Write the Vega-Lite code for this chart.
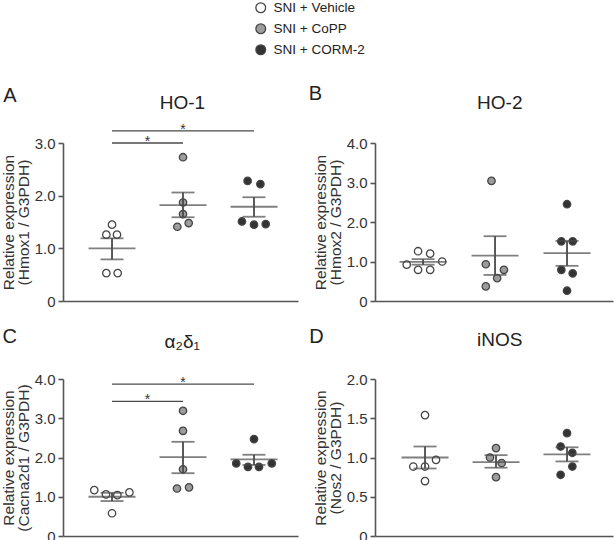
{
  "$schema": "https://vega.github.io/schema/vega-lite/v6.json",
  "autosize": {"type": "none"},
  "padding": {"left": 63, "top": 143, "right": 552, "bottom": 397},
  "background": "white",
  "config": {
    "font": "Liberation Sans",
    "view": {"stroke": null},
    "axis": {
      "domainColor": "#555555", "domainWidth": 1.6,
      "tickColor": "#555555", "tickWidth": 1.6, "tickSize": 5,
      "labelFontSize": 15, "labelColor": "#333333", "labelPadding": 3, "labelFont": "Liberation Sans", "labelOverlap": false,
      "grid": false,
      "titleFontSize": 15.5, "titleFontWeight": "normal", "titleColor": "#333333", "titleFont": "Liberation Sans",
      "titlePadding": 3, "titleLineHeight": 14.5
    }
  },
  "datasets": {
    "pts": [
      {"panel": "A", "group": "SNI + Vehicle", "jit": 0, "value": 1.45},
      {"panel": "A", "group": "SNI + Vehicle", "jit": -0.08, "value": 1.26},
      {"panel": "A", "group": "SNI + Vehicle", "jit": 0.07, "value": 1.26},
      {"panel": "A", "group": "SNI + Vehicle", "jit": -0.08, "value": 0.53},
      {"panel": "A", "group": "SNI + Vehicle", "jit": 0.08, "value": 0.53},
      {"panel": "A", "group": "SNI + CoPP", "jit": 0, "value": 2.73},
      {"panel": "A", "group": "SNI + CoPP", "jit": 0, "value": 1.87},
      {"panel": "A", "group": "SNI + CoPP", "jit": 0, "value": 1.65},
      {"panel": "A", "group": "SNI + CoPP", "jit": -0.08, "value": 1.41},
      {"panel": "A", "group": "SNI + CoPP", "jit": 0.08, "value": 1.48},
      {"panel": "A", "group": "SNI + CORM-2", "jit": -0.09, "value": 2.28},
      {"panel": "A", "group": "SNI + CORM-2", "jit": 0.09, "value": 2.22},
      {"panel": "A", "group": "SNI + CORM-2", "jit": -0.17, "value": 1.51},
      {"panel": "A", "group": "SNI + CORM-2", "jit": 0, "value": 1.45},
      {"panel": "A", "group": "SNI + CORM-2", "jit": 0.165, "value": 1.46},

      {"panel": "B", "group": "SNI + Vehicle", "jit": -0.07, "value": 1.26},
      {"panel": "B", "group": "SNI + Vehicle", "jit": 0.1, "value": 1.2},
      {"panel": "B", "group": "SNI + Vehicle", "jit": -0.23, "value": 0.92},
      {"panel": "B", "group": "SNI + Vehicle", "jit": 0.27, "value": 1.0},
      {"panel": "B", "group": "SNI + Vehicle", "jit": -0.07, "value": 0.79},
      {"panel": "B", "group": "SNI + Vehicle", "jit": 0.1, "value": 0.79},
      {"panel": "B", "group": "SNI + CoPP", "jit": -0.05, "value": 3.04},
      {"panel": "B", "group": "SNI + CoPP", "jit": -0.13, "value": 0.93},
      {"panel": "B", "group": "SNI + CoPP", "jit": 0.125, "value": 0.79},
      {"panel": "B", "group": "SNI + CoPP", "jit": 0.03, "value": 0.58},
      {"panel": "B", "group": "SNI + CoPP", "jit": -0.13, "value": 0.37},
      {"panel": "B", "group": "SNI + CORM-2", "jit": 0, "value": 2.45},
      {"panel": "B", "group": "SNI + CORM-2", "jit": -0.08, "value": 1.51},
      {"panel": "B", "group": "SNI + CORM-2", "jit": 0.08, "value": 1.51},
      {"panel": "B", "group": "SNI + CORM-2", "jit": -0.08, "value": 0.79},
      {"panel": "B", "group": "SNI + CORM-2", "jit": 0.08, "value": 0.7},
      {"panel": "B", "group": "SNI + CORM-2", "jit": 0, "value": 0.26},

      {"panel": "C", "group": "SNI + Vehicle", "jit": -0.25, "value": 1.17},
      {"panel": "C", "group": "SNI + Vehicle", "jit": -0.085, "value": 1.06},
      {"panel": "C", "group": "SNI + Vehicle", "jit": 0.075, "value": 1.04},
      {"panel": "C", "group": "SNI + Vehicle", "jit": 0.245, "value": 1.11},
      {"panel": "C", "group": "SNI + Vehicle", "jit": 0, "value": 0.58},
      {"panel": "C", "group": "SNI + CoPP", "jit": 0, "value": 3.19},
      {"panel": "C", "group": "SNI + CoPP", "jit": 0, "value": 2.68},
      {"panel": "C", "group": "SNI + CoPP", "jit": 0, "value": 1.7},
      {"panel": "C", "group": "SNI + CoPP", "jit": -0.085, "value": 1.21},
      {"panel": "C", "group": "SNI + CoPP", "jit": 0.085, "value": 1.24},
      {"panel": "C", "group": "SNI + CORM-2", "jit": 0, "value": 2.47},
      {"panel": "C", "group": "SNI + CORM-2", "jit": -0.25, "value": 1.85},
      {"panel": "C", "group": "SNI + CORM-2", "jit": -0.085, "value": 1.76},
      {"panel": "C", "group": "SNI + CORM-2", "jit": 0.07, "value": 1.76},
      {"panel": "C", "group": "SNI + CORM-2", "jit": 0.25, "value": 1.85},

      {"panel": "D", "group": "SNI + Vehicle", "jit": 0, "value": 1.54},
      {"panel": "D", "group": "SNI + Vehicle", "jit": -0.165, "value": 0.885},
      {"panel": "D", "group": "SNI + Vehicle", "jit": 0, "value": 0.885},
      {"panel": "D", "group": "SNI + Vehicle", "jit": 0.155, "value": 0.97},
      {"panel": "D", "group": "SNI + Vehicle", "jit": 0, "value": 0.7},
      {"panel": "D", "group": "SNI + CoPP", "jit": 0, "value": 1.12},
      {"panel": "D", "group": "SNI + CoPP", "jit": -0.085, "value": 1.0},
      {"panel": "D", "group": "SNI + CoPP", "jit": 0.08, "value": 0.93},
      {"panel": "D", "group": "SNI + CoPP", "jit": 0, "value": 0.75},
      {"panel": "D", "group": "SNI + CORM-2", "jit": 0, "value": 1.31},
      {"panel": "D", "group": "SNI + CORM-2", "jit": -0.09, "value": 1.14},
      {"panel": "D", "group": "SNI + CORM-2", "jit": 0.075, "value": 1.06},
      {"panel": "D", "group": "SNI + CORM-2", "jit": 0.075, "value": 0.885},
      {"panel": "D", "group": "SNI + CORM-2", "jit": -0.09, "value": 0.78}
    ],
    "sum": [
      {"panel": "A", "group": "SNI + Vehicle", "mean": 1.0, "lo": 0.79, "hi": 1.19},
      {"panel": "A", "group": "SNI + CoPP", "mean": 1.82, "lo": 1.59, "hi": 2.06},
      {"panel": "A", "group": "SNI + CORM-2", "mean": 1.79, "lo": 1.6, "hi": 1.97},
      {"panel": "B", "group": "SNI + Vehicle", "mean": 0.99, "lo": 0.92, "hi": 1.06},
      {"panel": "B", "group": "SNI + CoPP", "mean": 1.15, "lo": 0.66, "hi": 1.64},
      {"panel": "B", "group": "SNI + CORM-2", "mean": 1.21, "lo": 0.89, "hi": 1.52},
      {"panel": "C", "group": "SNI + Vehicle", "mean": 1.0, "lo": 0.89, "hi": 1.1},
      {"panel": "C", "group": "SNI + CoPP", "mean": 2.01, "lo": 1.6, "hi": 2.4},
      {"panel": "C", "group": "SNI + CORM-2", "mean": 1.95, "lo": 1.81, "hi": 2.07},
      {"panel": "D", "group": "SNI + Vehicle", "mean": 1.0, "lo": 0.86, "hi": 1.14},
      {"panel": "D", "group": "SNI + CoPP", "mean": 0.94, "lo": 0.87, "hi": 1.03},
      {"panel": "D", "group": "SNI + CORM-2", "mean": 1.04, "lo": 0.95, "hi": 1.13}
    ],
    "cmp": [
      {"panel": "A", "g1": "SNI + Vehicle", "g2": "SNI + CoPP", "sx": "SNI + CoPP", "so": -0.5, "lev": 3.0},
      {"panel": "A", "g1": "SNI + Vehicle", "g2": "SNI + CORM-2", "sx": "SNI + CoPP", "so": 0, "lev": 3.23},
      {"panel": "C", "g1": "SNI + Vehicle", "g2": "SNI + CoPP", "sx": "SNI + CoPP", "so": -0.5, "lev": 3.43},
      {"panel": "C", "g1": "SNI + Vehicle", "g2": "SNI + CORM-2", "sx": "SNI + CoPP", "so": 0, "lev": 3.87}
    ]
  },
  "columns": 2,
  "bounds": "flush",
  "spacing": {"row": 78, "column": 77},
  "concat": [
    {
      "width": 235, "height": 158,
      "resolve": {"axis": {"x": "independent", "y": "independent"}},
      "layer": [
        {
          "data": {"name": "pts"}, "transform": [{"filter": "datum.panel == 'A'"}],
          "mark": {"type": "circle", "size": 55, "stroke": "#454545", "strokeWidth": 1.3, "opacity": 1},
          "encoding": {
            "x": {"field": "group", "type": "nominal", "scale": {"type": "point", "domain": ["SNI + Vehicle", "SNI + CoPP", "SNI + CORM-2"], "padding": 0.655, "align": 0.527}, "axis": {"orient": "bottom", "ticks": false, "labels": false, "title": null}},
            "xOffset": {"field": "jit", "type": "quantitative", "scale": {"domain": [-1, 1], "range": [-71, 71]}},
            "y": {"field": "value", "type": "quantitative", "scale": {"domain": [0, 3], "nice": false, "zero": false}, "axis": {"orient": "left", "values": [0, 2], "labelOverlap": false, "labelExpr": "datum.value == 0 ? '0' : format(datum.value, '.1f')", "title": ["Relative expression", "(Hmox1 / G3PDH)"]}},
            "fill": {"field": "group", "type": "nominal", "scale": {"domain": ["SNI + Vehicle", "SNI + CoPP", "SNI + CORM-2"], "range": ["#ffffff", "#9c9c9c", "#333333"]},
              "legend": {"orient": "none", "legendX": 191, "legendY": -142, "title": null, "direction": "vertical", "symbolType": "circle", "symbolSize": 95, "symbolStrokeColor": "#454545", "symbolStrokeWidth": 1.3, "labelFontSize": 13.5, "labelColor": "#222222", "labelFont": "Liberation Sans", "rowPadding": 5, "labelOffset": 6, "padding": 0}}
          }
        },
        {
          "data": {"name": "sum"}, "transform": [{"filter": "datum.panel == 'A'"}],
          "mark": {"type": "tick", "orient": "horizontal", "size": 47, "thickness": 1.8, "color": "#4a4a4a"},
          "encoding": {
            "x": {"field": "group", "type": "nominal", "axis": {"orient": "top", "domain": false, "ticks": false, "labels": false, "title": "HO-1", "titleX": 119, "titleY": -34.5, "titleFontSize": 19, "titleColor": "#222222", "titleBaseline": "alphabetic", "titleAlign": "center", "titleAngle": 0}},
            "y": {"field": "mean", "type": "quantitative", "axis": {"orient": "left", "values": [1, 3], "domain": false, "title": null, "labelOverlap": false, "labelExpr": "format(datum.value, '.1f')"}}
          }
        },
        {
          "data": {"name": "sum"}, "transform": [{"filter": "datum.panel == 'A'"}],
          "mark": {"type": "rule", "strokeWidth": 1.8, "color": "#4a4a4a"},
          "encoding": {
            "x": {"field": "group", "type": "nominal", "axis": {"orient": "top", "domain": false, "ticks": false, "labels": false, "title": "A", "titleX": -53.7, "titleY": -42, "titleFontSize": 20, "titleColor": "#222222", "titleBaseline": "alphabetic", "titleAlign": "center", "titleAngle": 0}},
            "y": {"field": "lo", "type": "quantitative", "axis": null},
            "y2": {"field": "hi"}
          }
        },
        {
          "data": {"name": "sum"}, "transform": [{"filter": "datum.panel == 'A'"}],
          "mark": {"type": "tick", "orient": "horizontal", "size": 23, "thickness": 1.8, "color": "#4a4a4a"},
          "encoding": {
            "x": {"field": "group", "type": "nominal", "axis": null},
            "y": {"field": "lo", "type": "quantitative", "axis": null}
          }
        },
        {
          "data": {"name": "sum"}, "transform": [{"filter": "datum.panel == 'A'"}],
          "mark": {"type": "tick", "orient": "horizontal", "size": 23, "thickness": 1.8, "color": "#4a4a4a"},
          "encoding": {
            "x": {"field": "group", "type": "nominal", "axis": null},
            "y": {"field": "hi", "type": "quantitative", "axis": null}
          }
        },
        {
          "data": {"name": "cmp"}, "transform": [{"filter": "datum.panel == 'A'"}],
          "mark": {"type": "rule", "strokeWidth": 1.3, "color": "#4a4a4a", "clip": false},
          "encoding": {
            "x": {"field": "g1", "type": "nominal", "axis": null},
            "x2": {"field": "g2"},
            "y": {"field": "lev", "type": "quantitative", "axis": null}
          }
        },
        {
          "data": {"name": "cmp"}, "transform": [{"filter": "datum.panel == 'A'"}],
          "mark": {"type": "text", "text": "*", "fontSize": 14, "baseline": "alphabetic", "dy": 3, "color": "#333333", "clip": false},
          "encoding": {
            "x": {"field": "sx", "type": "nominal", "axis": null},
            "xOffset": {"field": "so", "type": "quantitative", "scale": {"domain": [-1, 1], "range": [-71, 71]}},
            "y": {"field": "lev", "type": "quantitative", "axis": null}
          }
        }
      ]
    },
    {
      "width": 238, "height": 158,
      "resolve": {"axis": {"x": "independent", "y": "independent"}},
      "layer": [
        {
          "data": {"name": "pts"}, "transform": [{"filter": "datum.panel == 'B'"}],
          "mark": {"type": "circle", "size": 55, "stroke": "#454545", "strokeWidth": 1.3, "opacity": 1},
          "encoding": {
            "x": {"field": "group", "type": "nominal", "scale": {"type": "point", "domain": ["SNI + Vehicle", "SNI + CoPP", "SNI + CORM-2"], "padding": 0.653, "align": 0.511}, "axis": {"orient": "bottom", "ticks": false, "labels": false, "title": null}},
            "xOffset": {"field": "jit", "type": "quantitative", "scale": {"domain": [-1, 1], "range": [-72, 72]}},
            "y": {"field": "value", "type": "quantitative", "scale": {"domain": [0, 4], "nice": false, "zero": false}, "axis": {"orient": "left", "values": [0, 2, 4], "labelOverlap": false, "labelExpr": "datum.value == 0 ? '0' : format(datum.value, '.1f')", "title": ["Relative expression", "(Hmox2 / G3PDH)"]}},
            "fill": {"field": "group", "type": "nominal", "scale": {"domain": ["SNI + Vehicle", "SNI + CoPP", "SNI + CORM-2"], "range": ["#ffffff", "#9c9c9c", "#333333"]}, "legend": null}
          }
        },
        {
          "data": {"name": "sum"}, "transform": [{"filter": "datum.panel == 'B'"}],
          "mark": {"type": "tick", "orient": "horizontal", "size": 47, "thickness": 1.8, "color": "#4a4a4a"},
          "encoding": {
            "x": {"field": "group", "type": "nominal", "axis": {"orient": "top", "domain": false, "ticks": false, "labels": false, "title": "HO-2", "titleX": 124.3, "titleY": -34.5, "titleFontSize": 19, "titleColor": "#222222", "titleBaseline": "alphabetic", "titleAlign": "center", "titleAngle": 0}},
            "y": {"field": "mean", "type": "quantitative", "axis": {"orient": "left", "values": [1, 3], "domain": false, "title": null, "labelOverlap": false, "labelExpr": "format(datum.value, '.1f')"}}
          }
        },
        {
          "data": {"name": "sum"}, "transform": [{"filter": "datum.panel == 'B'"}],
          "mark": {"type": "rule", "strokeWidth": 1.8, "color": "#4a4a4a"},
          "encoding": {
            "x": {"field": "group", "type": "nominal", "axis": {"orient": "top", "domain": false, "ticks": false, "labels": false, "title": "B", "titleX": -60, "titleY": -43.5, "titleFontSize": 20, "titleColor": "#222222", "titleBaseline": "alphabetic", "titleAlign": "center", "titleAngle": 0}},
            "y": {"field": "lo", "type": "quantitative", "axis": null},
            "y2": {"field": "hi"}
          }
        },
        {
          "data": {"name": "sum"}, "transform": [{"filter": "datum.panel == 'B'"}],
          "mark": {"type": "tick", "orient": "horizontal", "size": 23, "thickness": 1.8, "color": "#4a4a4a"},
          "encoding": {
            "x": {"field": "group", "type": "nominal", "axis": null},
            "y": {"field": "lo", "type": "quantitative", "axis": null}
          }
        },
        {
          "data": {"name": "sum"}, "transform": [{"filter": "datum.panel == 'B'"}],
          "mark": {"type": "tick", "orient": "horizontal", "size": 23, "thickness": 1.8, "color": "#4a4a4a"},
          "encoding": {
            "x": {"field": "group", "type": "nominal", "axis": null},
            "y": {"field": "hi", "type": "quantitative", "axis": null}
          }
        }
      ]
    },
    {
      "width": 235, "height": 157,
      "resolve": {"axis": {"x": "independent", "y": "independent"}},
      "layer": [
        {
          "data": {"name": "pts"}, "transform": [{"filter": "datum.panel == 'C'"}],
          "mark": {"type": "circle", "size": 55, "stroke": "#454545", "strokeWidth": 1.3, "opacity": 1},
          "encoding": {
            "x": {"field": "group", "type": "nominal", "scale": {"type": "point", "domain": ["SNI + Vehicle", "SNI + CoPP", "SNI + CORM-2"], "padding": 0.655, "align": 0.527}, "axis": {"orient": "bottom", "ticks": false, "labels": false, "title": null}},
            "xOffset": {"field": "jit", "type": "quantitative", "scale": {"domain": [-1, 1], "range": [-71, 71]}},
            "y": {"field": "value", "type": "quantitative", "scale": {"domain": [0, 4], "nice": false, "zero": false}, "axis": {"orient": "left", "values": [0, 2, 4], "labelOverlap": false, "labelExpr": "datum.value == 0 ? '0' : format(datum.value, '.1f')", "title": ["Relative expression", "(Cacna2d1 / G3PDH)"]}},
            "fill": {"field": "group", "type": "nominal", "scale": {"domain": ["SNI + Vehicle", "SNI + CoPP", "SNI + CORM-2"], "range": ["#ffffff", "#9c9c9c", "#333333"]}, "legend": null}
          }
        },
        {
          "data": {"name": "sum"}, "transform": [{"filter": "datum.panel == 'C'"}],
          "mark": {"type": "tick", "orient": "horizontal", "size": 47, "thickness": 1.8, "color": "#4a4a4a"},
          "encoding": {
            "x": {"field": "group", "type": "nominal", "axis": {"orient": "top", "domain": false, "ticks": false, "labels": false, "title": "α₂δ₁", "titleX": 118.7, "titleY": -32, "titleFontSize": 19, "titleColor": "#222222", "titleBaseline": "alphabetic", "titleAlign": "center", "titleAngle": 0}},
            "y": {"field": "mean", "type": "quantitative", "axis": {"orient": "left", "values": [1, 3], "domain": false, "title": null, "labelOverlap": false, "labelExpr": "format(datum.value, '.1f')"}}
          }
        },
        {
          "data": {"name": "sum"}, "transform": [{"filter": "datum.panel == 'C'"}],
          "mark": {"type": "rule", "strokeWidth": 1.8, "color": "#4a4a4a"},
          "encoding": {
            "x": {"field": "group", "type": "nominal", "axis": {"orient": "top", "domain": false, "ticks": false, "labels": false, "title": "C", "titleX": -53.7, "titleY": -37, "titleFontSize": 20, "titleColor": "#222222", "titleBaseline": "alphabetic", "titleAlign": "center", "titleAngle": 0}},
            "y": {"field": "lo", "type": "quantitative", "axis": null},
            "y2": {"field": "hi"}
          }
        },
        {
          "data": {"name": "sum"}, "transform": [{"filter": "datum.panel == 'C'"}],
          "mark": {"type": "tick", "orient": "horizontal", "size": 23, "thickness": 1.8, "color": "#4a4a4a"},
          "encoding": {
            "x": {"field": "group", "type": "nominal", "axis": null},
            "y": {"field": "lo", "type": "quantitative", "axis": null}
          }
        },
        {
          "data": {"name": "sum"}, "transform": [{"filter": "datum.panel == 'C'"}],
          "mark": {"type": "tick", "orient": "horizontal", "size": 23, "thickness": 1.8, "color": "#4a4a4a"},
          "encoding": {
            "x": {"field": "group", "type": "nominal", "axis": null},
            "y": {"field": "hi", "type": "quantitative", "axis": null}
          }
        },
        {
          "data": {"name": "cmp"}, "transform": [{"filter": "datum.panel == 'C'"}],
          "mark": {"type": "rule", "strokeWidth": 1.3, "color": "#4a4a4a", "clip": false},
          "encoding": {
            "x": {"field": "g1", "type": "nominal", "axis": null},
            "x2": {"field": "g2"},
            "y": {"field": "lev", "type": "quantitative", "axis": null}
          }
        },
        {
          "data": {"name": "cmp"}, "transform": [{"filter": "datum.panel == 'C'"}],
          "mark": {"type": "text", "text": "*", "fontSize": 14, "baseline": "alphabetic", "dy": 3, "color": "#333333", "clip": false},
          "encoding": {
            "x": {"field": "sx", "type": "nominal", "axis": null},
            "xOffset": {"field": "so", "type": "quantitative", "scale": {"domain": [-1, 1], "range": [-71, 71]}},
            "y": {"field": "lev", "type": "quantitative", "axis": null}
          }
        }
      ]
    },
    {
      "width": 238, "height": 157,
      "resolve": {"axis": {"x": "independent", "y": "independent"}},
      "layer": [
        {
          "data": {"name": "pts"}, "transform": [{"filter": "datum.panel == 'D'"}],
          "mark": {"type": "circle", "size": 55, "stroke": "#454545", "strokeWidth": 1.3, "opacity": 1},
          "encoding": {
            "x": {"field": "group", "type": "nominal", "scale": {"type": "point", "domain": ["SNI + Vehicle", "SNI + CoPP", "SNI + CORM-2"], "padding": 0.676, "align": 0.521}, "axis": {"orient": "bottom", "ticks": false, "labels": false, "title": null}},
            "xOffset": {"field": "jit", "type": "quantitative", "scale": {"domain": [-1, 1], "range": [-71, 71]}},
            "y": {"field": "value", "type": "quantitative", "scale": {"domain": [0, 2], "nice": false, "zero": false}, "axis": {"orient": "left", "values": [0, 1, 2], "labelOverlap": false, "labelExpr": "datum.value == 0 ? '0' : format(datum.value, '.1f')", "title": ["Relative expression", "(Nos2 / G3PDH)"]}},
            "fill": {"field": "group", "type": "nominal", "scale": {"domain": ["SNI + Vehicle", "SNI + CoPP", "SNI + CORM-2"], "range": ["#ffffff", "#9c9c9c", "#333333"]}, "legend": null}
          }
        },
        {
          "data": {"name": "sum"}, "transform": [{"filter": "datum.panel == 'D'"}],
          "mark": {"type": "tick", "orient": "horizontal", "size": 47, "thickness": 1.8, "color": "#4a4a4a"},
          "encoding": {
            "x": {"field": "group", "type": "nominal", "axis": {"orient": "top", "domain": false, "ticks": false, "labels": false, "title": "iNOS", "titleX": 124.3, "titleY": -34, "titleFontSize": 19, "titleColor": "#222222", "titleBaseline": "alphabetic", "titleAlign": "center", "titleAngle": 0}},
            "y": {"field": "mean", "type": "quantitative", "axis": {"orient": "left", "values": [0.5, 1.5], "domain": false, "title": null, "labelOverlap": false, "labelExpr": "format(datum.value, '.1f')"}}
          }
        },
        {
          "data": {"name": "sum"}, "transform": [{"filter": "datum.panel == 'D'"}],
          "mark": {"type": "rule", "strokeWidth": 1.8, "color": "#4a4a4a"},
          "encoding": {
            "x": {"field": "group", "type": "nominal", "axis": {"orient": "top", "domain": false, "ticks": false, "labels": false, "title": "D", "titleX": -59, "titleY": -37, "titleFontSize": 20, "titleColor": "#222222", "titleBaseline": "alphabetic", "titleAlign": "center", "titleAngle": 0}},
            "y": {"field": "lo", "type": "quantitative", "axis": null},
            "y2": {"field": "hi"}
          }
        },
        {
          "data": {"name": "sum"}, "transform": [{"filter": "datum.panel == 'D'"}],
          "mark": {"type": "tick", "orient": "horizontal", "size": 23, "thickness": 1.8, "color": "#4a4a4a"},
          "encoding": {
            "x": {"field": "group", "type": "nominal", "axis": null},
            "y": {"field": "lo", "type": "quantitative", "axis": null}
          }
        },
        {
          "data": {"name": "sum"}, "transform": [{"filter": "datum.panel == 'D'"}],
          "mark": {"type": "tick", "orient": "horizontal", "size": 23, "thickness": 1.8, "color": "#4a4a4a"},
          "encoding": {
            "x": {"field": "group", "type": "nominal", "axis": null},
            "y": {"field": "hi", "type": "quantitative", "axis": null}
          }
        }
      ]
    }
  ]
}
